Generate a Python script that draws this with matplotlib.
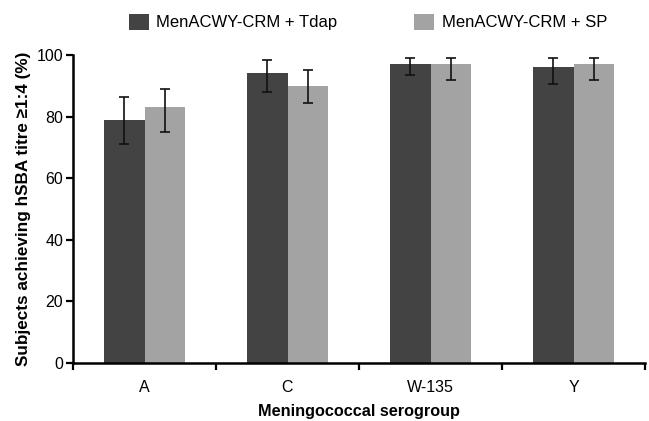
import matplotlib.pyplot as plt
import numpy as np
from matplotlib.patches import Patch

plt.rcParams['font.family'] = ['Liberation Sans', 'DejaVu Sans']

groups = ['A', 'C', 'W-135', 'Y']
series_names = ['MenACWY-CRM + Tdap', 'MenACWY-CRM + SP']
tdap = [79, 94, 97, 96]
tdap_lo = [71, 88, 93.5, 90.5]
tdap_hi = [86.5, 98.3, 99, 99]
sp = [83, 90, 97, 97]
sp_lo = [75, 84.3, 92, 92]
sp_hi = [89, 95, 99, 99]

colors = ['#434343', '#a3a3a3']

fig = plt.figure(figsize=(6.49, 4.21), dpi=100)
ax = fig.add_axes([73 / 649, 58 / 421, 572 / 649, 308 / 421])

x = np.arange(len(groups))
w = 0.285

def errs(vals, lo, hi):
    v = np.array(vals)
    return [v - np.array(lo), np.array(hi) - v]

ax.bar(x - w / 2, tdap, w, color=colors[0], zorder=2)
ax.bar(x + w / 2, sp, w, color=colors[1], zorder=2)
ax.errorbar(x - w / 2, tdap, yerr=errs(tdap, tdap_lo, tdap_hi), fmt='none',
            ecolor='#111111', elinewidth=1.2, capsize=3.5, capthick=1.2, zorder=3)
ax.errorbar(x + w / 2, sp, yerr=errs(sp, sp_lo, sp_hi), fmt='none',
            ecolor='#111111', elinewidth=1.2, capsize=3.5, capthick=1.2, zorder=3)

ax.set_xlim(-0.5, len(groups) - 0.5)
ax.set_ylim(0, 100)
ax.set_yticks(range(0, 101, 20))
ax.set_xticks(np.arange(-0.5, len(groups), 1.0))
ax.set_xticklabels([])
ax.set_xticks(x, minor=True)
ax.set_xticklabels(groups, minor=True)
ax.tick_params(axis='x', which='minor', length=0, pad=12, labelsize=11.5)
ax.tick_params(axis='x', which='major', length=5, width=1.6, direction='out')
ax.tick_params(axis='y', length=5, width=1.6, direction='out', labelsize=11.5, pad=2)

for s in ['top', 'right']:
    ax.spines[s].set_visible(False)
for s in ['left', 'bottom']:
    ax.spines[s].set_linewidth(1.8)

ax.set_ylabel('Subjects achieving hSBA titre \u22651:4 (%)', fontsize=12.3,
              fontweight='bold', labelpad=4)
ax.set_xlabel('Meningococcal serogroup', fontsize=11.7, fontweight='bold', labelpad=7)

handles = [Patch(facecolor=c, edgecolor='none') for c in colors]
fig.legend(handles, series_names, loc='center', ncol=2, frameon=False,
           bbox_to_anchor=(368 / 649, 1 - 22 / 421), fontsize=12,
           handlelength=1.2, handleheight=1.15, handletextpad=0.45,
           columnspacing=4.6, borderaxespad=0, borderpad=0)

fig.savefig('out.png', dpi=100)
